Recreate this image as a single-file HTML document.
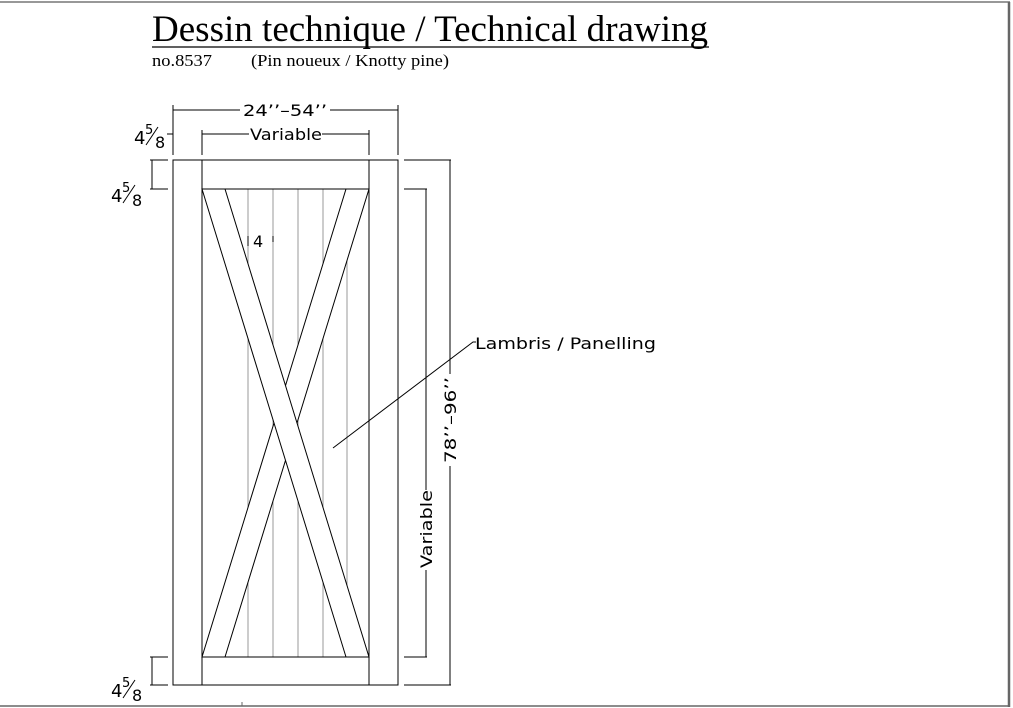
<!DOCTYPE html>
<html><head><meta charset="utf-8"><style>
html,body{margin:0;padding:0;background:#fff;}
svg{display:block;}
.cad{font-family:"DejaVu Sans","Liberation Sans",sans-serif;font-size:16px;fill:#000;}
</style></head><body>
<svg width="1013" height="708" viewBox="0 0 1013 708" xmlns="http://www.w3.org/2000/svg">
<rect width="1013" height="708" fill="#fff"/>
<line x1="0" y1="2" x2="1010" y2="2" stroke="#777" stroke-width="1.5"/>
<line x1="1009" y1="2" x2="1009" y2="707" stroke="#666" stroke-width="2.5"/>
<line x1="0" y1="706" x2="1010" y2="706" stroke="#666" stroke-width="1.5"/>
<line x1="242" y1="702" x2="242" y2="706" stroke="#666"/>
<text x="152" y="41" font-family="Liberation Serif,serif" font-size="37" fill="#000" textLength="556" lengthAdjust="spacingAndGlyphs">Dessin technique / Technical drawing</text>
<line x1="152" y1="47" x2="709" y2="47" stroke="#000" stroke-width="1.2"/>
<text x="152" y="66" font-family="Liberation Serif,serif" font-size="16.5" fill="#000" textLength="60" lengthAdjust="spacingAndGlyphs">no.8537</text>
<text x="251" y="66" font-family="Liberation Serif,serif" font-size="16.5" fill="#000" textLength="198" lengthAdjust="spacingAndGlyphs">(Pin noueux / Knotty pine)</text>

<g stroke="#000" stroke-width="1" fill="none">
<g stroke="#999">
<line x1="248" y1="189" x2="248" y2="657"/>
<line x1="273" y1="189" x2="273" y2="657"/>
<line x1="298" y1="189" x2="298" y2="657"/>
<line x1="323" y1="189" x2="323" y2="657"/>
<line x1="347" y1="189" x2="347" y2="657"/>
</g>
<polygon points="346,189 369,189 225,657 202,657" fill="#fff"/>
<polygon points="202,189 225,189 369,657 346,657" fill="#fff"/>
<rect x="173" y="160" width="225" height="525"/>
<line x1="202" y1="160" x2="202" y2="685"/>
<line x1="369" y1="160" x2="369" y2="685"/>
<line x1="202" y1="189" x2="369" y2="189"/>
<line x1="202" y1="657" x2="369" y2="657"/>
<line x1="173" y1="105" x2="173" y2="155"/>
<line x1="398" y1="105" x2="398" y2="155"/>
<line x1="173" y1="110" x2="240" y2="110"/>
<line x1="330" y1="110" x2="398" y2="110"/>
<line x1="202" y1="130" x2="202" y2="155"/>
<line x1="369" y1="130" x2="369" y2="155"/>
<line x1="202" y1="134" x2="249" y2="134"/>
<line x1="322" y1="134" x2="369" y2="134"/>
<line x1="167" y1="134" x2="173" y2="134"/>
<line x1="150" y1="160" x2="168" y2="160"/>
<line x1="152" y1="160" x2="152" y2="189"/>
<line x1="150" y1="189" x2="168" y2="189"/>
<line x1="150" y1="657" x2="168" y2="657"/>
<line x1="152" y1="657" x2="152" y2="685"/>
<line x1="150" y1="685" x2="168" y2="685"/>
<line x1="404" y1="160" x2="451" y2="160"/>
<line x1="404" y1="189" x2="427" y2="189"/>
<line x1="404" y1="657" x2="427" y2="657"/>
<line x1="404" y1="685" x2="451" y2="685"/>
<line x1="426" y1="189" x2="426" y2="490"/>
<line x1="426" y1="570" x2="426" y2="657"/>
<line x1="450" y1="160" x2="450" y2="374"/>
<line x1="450" y1="466" x2="450" y2="685"/>
<polyline points="333,448 473,342 476,342"/>
<line x1="248" y1="236" x2="248" y2="246"/>
<line x1="273" y1="236" x2="273" y2="242"/>
</g>
<text class="cad" x="243" y="116" textLength="84" lengthAdjust="spacingAndGlyphs">24’’–54’’</text>
<text class="cad" x="250" y="140" textLength="72" lengthAdjust="spacingAndGlyphs">Variable</text>
<text class="cad" x="253" y="247" font-size="15">4</text>
<text class="cad" x="475" y="349" textLength="181" lengthAdjust="spacingAndGlyphs">Lambris / Panelling</text>
<text class="cad" transform="translate(432,568) rotate(-90)" textLength="78" lengthAdjust="spacingAndGlyphs">Variable</text>
<text class="cad" transform="translate(456,463) rotate(-90)" textLength="86" lengthAdjust="spacingAndGlyphs">78’’–96’’</text>
<g font-family="DejaVu Sans,sans-serif" fill="#000" stroke="#000">
<g stroke="none">
<text x="134" y="144" font-size="18">4</text><text x="145" y="134" font-size="13">5</text><text x="155" y="148" font-size="16">8</text>
<text x="111" y="202" font-size="18">4</text><text x="122" y="192" font-size="13">5</text><text x="132" y="206" font-size="16">8</text>
<text x="111" y="697" font-size="18">4</text><text x="122" y="687" font-size="13">5</text><text x="132" y="701" font-size="16">8</text>
</g>
<line x1="146" y1="145" x2="158" y2="127"/>
<line x1="123" y1="203" x2="135" y2="185"/>
<line x1="123" y1="698" x2="135" y2="680"/>
</g>
</svg>
</body></html>
